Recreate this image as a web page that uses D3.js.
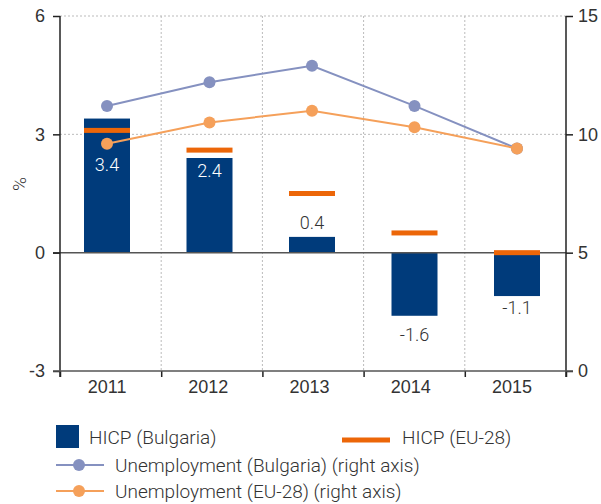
<!DOCTYPE html>
<html>
<head>
<meta charset="utf-8">
<script src="https://cdn.jsdelivr.net/npm/d3@7"></script>
<style>
  body { margin: 0; background: #fff; }
  svg { font-family: Roboto, 'Liberation Sans', sans-serif; font-weight: 300; }
  .axis text { font-size: 18px; fill: #333; }
</style>
</head>
<body>
<div id="vis"></div>
<script>
const years = ['2011', '2012', '2013', '2014', '2015']
const hicpBulgaria = [3.4, 2.4, 0.4, -1.6, -1.1]
const hicpEU = [3.1, 2.6, 1.5, 0.5, 0.0]
const unempBulgaria = [11.2, 12.2, 12.9, 11.2, 9.4]
const unempEU = [9.6, 10.5, 11.0, 10.3, 9.4]
const leftTicks = [-3, 0, 3, 6]
const rightTicks = [0, 5, 10, 15]

const colors = {
  bar: '#003b7b',
  eu: '#ec6608',
  unBg: '#8591c0',
  unEu: '#f5a05a',
  text: '#333'
}

const width = 601
const height = 504
const plot = { left: 60, right: 566, top: 16, bottom: 371 }

const svg = d3.select('#vis').append('svg')
  .attr('width', width)
  .attr('height', height)

const yL = d3.scaleLinear().domain([-3, 6]).range([plot.bottom, plot.top])
const yR = d3.scaleLinear().domain([0, 15]).range([plot.bottom, plot.top])
const xBand = d3.scaleBand().domain(years).range([plot.left, plot.right])
const xEdge = d3.scaleLinear().domain([0, years.length]).range([plot.left, plot.right])
// marks sit slightly off the band centres in the original
const x = d3.scalePoint().domain(years).range([107, 517])

const barWidth = 46

// dotted grid
svg.append('g')
  .selectAll('line')
  .data([3, 6])
  .join('line')
  .attr('x1', plot.left).attr('x2', plot.right)
  .attr('y1', d => yL(d)).attr('y2', d => yL(d))
  .attr('stroke', '#bbb').attr('stroke-dasharray', '2,2')

svg.append('g')
  .selectAll('line')
  .data(d3.range(1, years.length))
  .join('line')
  .attr('x1', d => xEdge(d)).attr('x2', d => xEdge(d))
  .attr('y1', plot.top).attr('y2', plot.bottom)
  .attr('stroke', '#bbb').attr('stroke-dasharray', '2,2')

// bars
svg.append('g')
  .selectAll('rect')
  .data(hicpBulgaria)
  .join('rect')
  .attr('x', (d, i) => x(years[i]) - barWidth / 2)
  .attr('width', barWidth)
  .attr('y', d => yL(Math.max(0, d)))
  .attr('height', d => Math.abs(yL(d) - yL(0)))
  .attr('fill', colors.bar)

// zero line
svg.append('line')
  .attr('x1', plot.left - 7).attr('x2', plot.right)
  .attr('y1', yL(0)).attr('y2', yL(0))
  .attr('stroke', '#555').attr('stroke-width', 1.5)

// EU-28 HICP markers
svg.append('g')
  .selectAll('rect')
  .data(hicpEU)
  .join('rect')
  .attr('x', (d, i) => x(years[i]) - barWidth / 2)
  .attr('width', barWidth)
  .attr('y', d => yL(d) - 2.5)
  .attr('height', 5)
  .attr('fill', colors.eu)

// bar labels
const labelOffsets = [52, 19, -8, 25, 18]
svg.append('g')
  .selectAll('text')
  .data(hicpBulgaria)
  .join('text')
  .attr('x', (d, i) => x(years[i]))
  .attr('y', (d, i) => yL(d) + labelOffsets[i])
  .attr('text-anchor', 'middle')
  .attr('font-size', 18)
  .attr('fill', (d, i) => (d >= 0 && labelOffsets[i] > 0 ? '#fff' : colors.text))
  .text(d => d.toFixed(1))

// unemployment lines
const series = [
  { values: unempBulgaria, color: colors.unBg },
  { values: unempEU, color: colors.unEu }
]
const line = d3.line().x((d, i) => x(years[i])).y(d => yR(d))

series.forEach(s => {
  svg.append('path')
    .attr('d', line(s.values))
    .attr('fill', 'none')
    .attr('stroke', s.color)
    .attr('stroke-width', 2)
  svg.append('g')
    .selectAll('circle')
    .data(s.values)
    .join('circle')
    .attr('cx', (d, i) => x(years[i]))
    .attr('cy', d => yR(d))
    .attr('r', 6)
    .attr('fill', s.color)
})

// axes
const leftAxis = svg.append('g')
  .attr('class', 'axis')
  .attr('transform', `translate(${plot.left},0)`)
  .call(d3.axisLeft(yL).tickValues(leftTicks).tickSize(7).tickPadding(8).tickFormat(d => String(d)))
leftAxis.select('.domain').remove()
leftAxis.append('line')
  .attr('y1', plot.top).attr('y2', plot.bottom + 6)
  .attr('stroke', '#222').attr('stroke-width', 1.5)

const rightAxis = svg.append('g')
  .attr('class', 'axis')
  .attr('transform', `translate(${plot.right},0)`)
  .call(d3.axisRight(yR).tickValues(rightTicks).tickSize(7).tickPadding(5))
rightAxis.select('.domain').remove()
rightAxis.append('line')
  .attr('y1', plot.top).attr('y2', plot.bottom + 6)
  .attr('stroke', '#222').attr('stroke-width', 1.5)

svg.selectAll('.axis .tick line').attr('stroke', '#222').attr('stroke-width', 1.5)

const bottomAxis = svg.append('g')
  .attr('class', 'axis')
  .attr('transform', `translate(0,${plot.bottom})`)
  .call(d3.axisBottom(xEdge).tickValues(d3.range(years.length + 1)).tickSize(6).tickFormat(''))
bottomAxis.select('.domain').remove()
bottomAxis.selectAll('.tick line').attr('stroke', '#222').attr('stroke-width', 1.5)
bottomAxis.append('line')
  .attr('x1', plot.left - 7).attr('x2', plot.right + 7)
  .attr('stroke', '#555').attr('stroke-width', 1.5)

const catAxis = svg.append('g')
  .attr('class', 'axis')
  .attr('transform', `translate(-3.5,${plot.bottom})`)
  .call(d3.axisBottom(xBand).tickSize(0).tickPadding(9))
catAxis.select('.domain').remove()

// y label
svg.append('text')
  .attr('transform', `translate(26,184) rotate(-90)`)
  .attr('text-anchor', 'middle')
  .attr('font-size', 19)
  .attr('fill', colors.text)
  .text('%')

// legend
const legend = svg.append('g').attr('font-size', 19).attr('fill', colors.text)

legend.append('rect')
  .attr('x', 56).attr('y', 425).attr('width', 23).attr('height', 23)
  .attr('fill', colors.bar)
legend.append('text').attr('x', 89).attr('y', 437).attr('dy', '0.35em').text('HICP (Bulgaria)')

legend.append('rect')
  .attr('x', 342).attr('y', 437.5).attr('width', 48).attr('height', 5)
  .attr('fill', colors.eu)
legend.append('text').attr('x', 402).attr('y', 437).attr('dy', '0.35em').text('HICP (EU-28)')

const lineLegend = [
  { label: 'Unemployment (Bulgaria) (right axis)', color: colors.unBg, y: 465 },
  { label: 'Unemployment (EU-28) (right axis)', color: colors.unEu, y: 491 }
]
lineLegend.forEach(l => {
  legend.append('line')
    .attr('x1', 56).attr('x2', 104).attr('y1', l.y).attr('y2', l.y)
    .attr('stroke', l.color).attr('stroke-width', 2)
  legend.append('circle').attr('cx', 79).attr('cy', l.y).attr('r', 6).attr('fill', l.color)
  legend.append('text').attr('x', 115).attr('y', l.y).attr('dy', '0.35em').text(l.label)
})
</script>
</body>
</html>
